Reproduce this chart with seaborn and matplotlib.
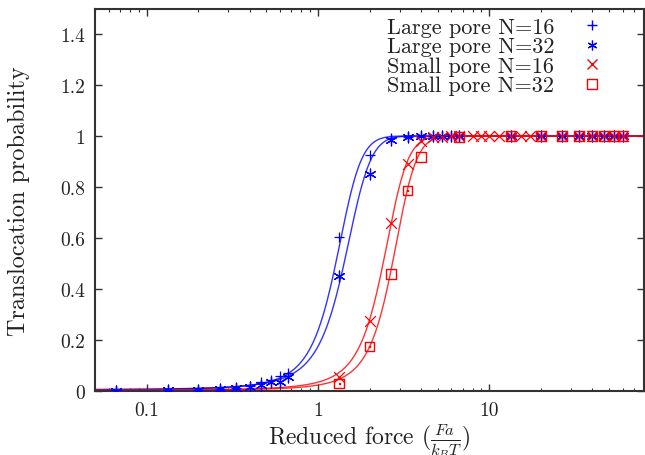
import numpy as np
import pandas as pd
import matplotlib
matplotlib.use("Agg")
import matplotlib.pyplot as plt
import seaborn as sns
from matplotlib.path import Path
from matplotlib.lines import Line2D
from matplotlib.ticker import FixedLocator, FuncFormatter, LogLocator, NullFormatter

# ---------------- data ----------------
x_large = [0.0667, 0.1333, 0.2, 0.2667, 0.3333, 0.4, 0.4667, 0.5333, 0.6, 0.6667,
           1.333, 2.0, 2.667, 3.333, 4.0, 4.667, 5.333, 6.0, 6.667,
           13.33, 20.0, 26.67, 33.33, 40.0, 46.67, 53.33, 60.0]
large16 = [0.002, 0.003, 0.005, 0.008, 0.013, 0.02, 0.035, 0.045, 0.06, 0.072,
           0.604, 0.925, 0.993, 0.998, 1.0, 1.0, 1.0, 1.0, 1.0,
           1.0, 1.0, 1.0, 1.0, 1.0, 1.0, 1.0, 1.0]
large32 = [0.001, 0.002, 0.003, 0.007, 0.011, 0.017, 0.024, 0.034, 0.036, 0.056,
           0.451, 0.851, 0.985, 0.996, 0.999, 1.0, 1.0, 1.0, 1.0,
           1.0, 1.0, 1.0, 1.0, 1.0, 1.0, 1.0, 1.0]

x_small16 = [1.333, 2.0, 2.667, 3.333, 4.0, 4.667, 5.333, 6.0, 6.667, 8.0, 9.0, 10.0,
             11.33, 13.33, 15.33, 17.33, 20.0, 26.67, 33.33, 40.0, 46.67, 53.33, 60.0]
small16 = [0.054, 0.276, 0.659, 0.89, 0.982, 0.995, 0.998, 1.0, 1.0, 1.0, 1.0, 1.0,
           1.0, 1.0, 1.0, 1.0, 1.0, 1.0, 1.0, 1.0, 1.0, 1.0, 1.0]
x_small32 = [1.333, 2.0, 2.667, 3.333, 4.0, 6.667, 13.33, 20.0, 26.67, 33.33, 40.0,
             46.67, 53.33, 60.0]
small32 = [0.030, 0.174, 0.459, 0.786, 0.917, 0.995, 1.0, 1.0, 1.0, 1.0, 1.0,
           1.0, 1.0, 1.0]

labels = ["Large pore N=16", "Large pore N=32", "Small pore N=16", "Small pore N=32"]
# logistic fit parameters (centre, width) of each series' fitted curve
fit_centre = [1.27, 1.42, 2.40, 2.72]
fit_width = [0.23, 0.27, 0.42, 0.46]

x_ticks = [0.1, 1, 10]
y_ticks = [0, 0.2, 0.4, 0.6, 0.8, 1.0, 1.2, 1.4]

# ---------------- style ----------------
sns.set_style("ticks")
plt.rcParams["font.family"] = ["cmr10", "DejaVu Serif"]
plt.rcParams["mathtext.fontset"] = "cm"
plt.rcParams["axes.formatter.use_mathtext"] = True
plt.rcParams["axes.unicode_minus"] = False

blue = "#0000ff"
red = "#ff0000"
axis_col = "#333333"
text_col = "#222222"

# square-with-dot marker
sq = Path([(-1, -1), (1, -1), (1, 1), (-1, 1), (-1, -1)],
          [Path.MOVETO, Path.LINETO, Path.LINETO, Path.LINETO, Path.CLOSEPOLY])
dot = Path([(-0.06, -0.06), (0.06, -0.06), (0.06, 0.06), (-0.06, 0.06), (-0.06, -0.06)],
           [Path.MOVETO, Path.LINETO, Path.LINETO, Path.LINETO, Path.CLOSEPOLY])
sqdot = Path.make_compound_path(sq, dot)
asterisk = (6, 2, 0)

fig = plt.figure(figsize=(6.45, 4.56), dpi=100)
ax = fig.add_axes([95 / 645, 1 - 392 / 456, (644 - 95) / 645, (392 - 9.5) / 456])

series = [
    (x_large, large16, blue, "+"),
    (x_large, large32, blue, asterisk),
    (x_small16, small16, red, "x"),
    (x_small32, small32, red, sqdot),
]

xc = np.geomspace(0.05, 80, 500)
for i, (xs, ys, col, mk) in enumerate(series):
    df = pd.DataFrame({"x": xs, "y": ys})
    if mk is sqdot:
        sns.scatterplot(data=df, x="x", y="y", ax=ax, marker=mk, s=48,
                        facecolor="none", edgecolor=col, linewidth=1.0, zorder=3)
    else:
        sns.scatterplot(data=df, x="x", y="y", ax=ax, marker=mk, s=60,
                        color=col, linewidth=0.9, zorder=3)
    fit = 1.0 / (1.0 + np.exp(-(xc - fit_centre[i]) / fit_width[i]))
    sns.lineplot(x=xc, y=fit, ax=ax, color=col, lw=1.0, alpha=0.8, zorder=2,
                 estimator=None, sort=False)

ax.set_xscale("log")
ax.set_xlim(0.05, 80)
ax.set_ylim(0, 1.5)
ax.xaxis.set_major_locator(FixedLocator(x_ticks))
ax.xaxis.set_major_formatter(FuncFormatter(lambda v, p: f"{v:g}"))
ax.xaxis.set_minor_locator(LogLocator(base=10, subs=np.arange(2, 10)))
ax.xaxis.set_minor_formatter(NullFormatter())
ax.yaxis.set_major_locator(FixedLocator(y_ticks))
ax.yaxis.set_major_formatter(FuncFormatter(lambda v, p: f"{v:g}"))

ax.tick_params(which="both", direction="in", top=True, right=True,
               color=axis_col, labelsize=14, labelcolor=text_col)
ax.tick_params(which="major", length=5, width=1.0, pad=7)
ax.tick_params(which="minor", length=2.5, width=0.8)
for sp in ax.spines.values():
    sp.set_visible(True)
    sp.set_color(axis_col)
    sp.set_linewidth(1.5)

ax.set_xlabel(r"Reduced force ($\frac{Fa}{k_BT}$)", fontsize=17, color=text_col, labelpad=2)
ax.set_ylabel("Translocation probability", fontsize=17.5, color=text_col, labelpad=22)

handles = [
    Line2D([], [], ls="none", marker="+", color=blue, ms=7, mew=1.0),
    Line2D([], [], ls="none", marker=asterisk, color=blue, ms=7, mew=0.9),
    Line2D([], [], ls="none", marker="x", color=red, ms=7, mew=1.0),
    Line2D([], [], ls="none", marker=sqdot, mfc="none", mec=red, ms=6.5, mew=1.0),
]
leg = ax.legend(handles, labels, loc="upper right", bbox_to_anchor=(0.95, 1.012),
                frameon=False, markerfirst=False, fontsize=16, labelspacing=0.0,
                handlelength=1.0, handletextpad=1.2, borderpad=0.1)
for t in leg.get_texts():
    t.set_color(text_col)

fig.savefig("out.png", dpi=100)
